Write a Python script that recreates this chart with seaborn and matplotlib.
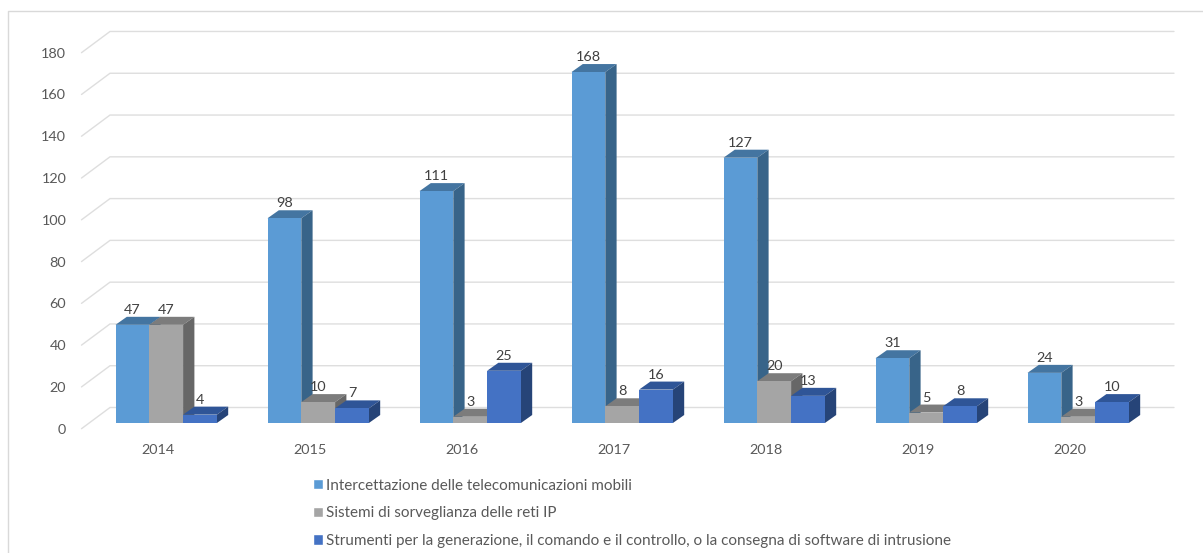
import matplotlib
matplotlib.use("Agg")
import matplotlib.pyplot as plt
from matplotlib.lines import Line2D
from matplotlib.patches import Polygon
from matplotlib.transforms import Affine2D
import pandas as pd
import seaborn as sns

# Chart values
years = ["2014", "2015", "2016", "2017", "2018", "2019", "2020"]
series_names = [
    "Intercettazione delle telecomunicazioni mobili",
    "Sistemi di sorveglianza delle reti IP",
    "Strumenti per la generazione, il comando e il controllo, o la consegna di software di intrusione",
]
intercettazione = [47, 98, 111, 168, 127, 31, 24]
sorveglianza = [47, 10, 3, 8, 20, 5, 3]
strumenti = [4, 7, 25, 16, 13, 8, 10]
y_ticks = list(range(0, 181, 20))

# Face colours: front, top, side
front_colors = ["#5B9BD5", "#A5A5A5", "#4472C4"]
top_colors = ["#4475A1", "#7C7C7C", "#2F5597"]
side_colors = ["#386489", "#676767", "#264478"]

W, H, DPI = 1203, 553, 100
sns.set_style("white")
plt.rcParams["font.family"] = ["Lato", "DejaVu Sans"]
TEXT = "#595959"
LABEL = "#404040"
GRID = "#DEDEDE"

fig = plt.figure(figsize=(W / DPI, H / DPI), dpi=DPI, facecolor="white")

# The axes is the front plane of the 3D box
PX_LEFT, PX_ZERO, PX_WIDTH = 81.5, 428.7, 1064.0
PX_PER_UNIT = 2.089
PX_PER_CAT = PX_WIDTH / len(years)
ax = fig.add_axes([PX_LEFT / W, (H - PX_ZERO) / H, PX_WIDTH / W, 180 * PX_PER_UNIT / H])

df = pd.DataFrame({
    "anno": years * 3,
    "valore": intercettazione + sorveglianza + strumenti,
    "serie": [n for n in series_names for _ in years],
})
sns.barplot(data=df, x="anno", y="valore", hue="serie", hue_order=series_names,
            palette=front_colors, saturation=1, width=0.667, gap=0, dodge=True, ax=ax)
handles, labels = ax.get_legend_handles_labels()
ax.get_legend().remove()

ax.set_xlim(-0.5, len(years) - 0.5)
ax.set_ylim(0, 180)
ax.set_xlabel("")
ax.set_ylabel("")
ax.set_yticks(y_ticks)
ax.tick_params(axis="both", length=0, labelsize=10.4, labelcolor=TEXT)
ax.tick_params(axis="x", pad=11.2)
ax.tick_params(axis="y", pad=11)
sns.despine(ax=ax, left=True, bottom=True)
ax.patch.set_alpha(0)


def depth(px_x, px_y):
    """Convert a pixel offset on screen into data units."""
    return px_x / PX_PER_CAT, px_y / PX_PER_UNIT


# Walls: diagonal on the side wall, horizontal on the back wall
wall_dx, wall_dy = depth(28.5, 21.2)
x0, x1 = ax.get_xlim()
for v in y_ticks:
    ax.plot([x0, x0 + wall_dx, x1 + wall_dx], [v, v + wall_dy, v + wall_dy],
            color=GRID, lw=1.0, clip_on=False, zorder=0.5, solid_joinstyle="miter")

# Bars stand a little behind the front plane
BAR_SHIFT_X, BAR_SHIFT_Y = 8.7, 5.7
shift = Affine2D().translate(BAR_SHIFT_X, BAR_SHIFT_Y)
bar_dx, bar_dy = depth(11.3, 8.0)
for i, bars in enumerate(ax.containers):
    base = 2 + i
    for patch in bars:
        bx, bw, bh = patch.get_x(), patch.get_width(), patch.get_height()
        transform = ax.transData + shift
        patch.set_transform(transform)
        patch.set_zorder(base + 0.2)
        patch.set_clip_on(False)
        patch.set_linewidth(0)
        top = Polygon([(bx, bh), (bx + bw, bh), (bx + bw + bar_dx, bh + bar_dy), (bx + bar_dx, bh + bar_dy)],
                      closed=True, facecolor=top_colors[i], edgecolor="none",
                      transform=transform, clip_on=False, zorder=base)
        side = Polygon([(bx + bw, 0), (bx + bw + bar_dx, bar_dy), (bx + bw + bar_dx, bh + bar_dy), (bx + bw, bh)],
                       closed=True, facecolor=side_colors[i], edgecolor="none",
                       transform=transform, clip_on=False, zorder=base)
        ax.add_patch(top)
        ax.add_patch(side)
        ax.annotate(f"{bh:.0f}", (bx + bw / 2, bh), xytext=(BAR_SHIFT_X, 20.6), textcoords="offset pixels",
                    ha="center", va="center", fontsize=10.4, color=LABEL, zorder=10,
                    annotation_clip=False)

# Legend stacked under the plot
fig.legend(handles, labels, loc="upper left", bbox_to_anchor=(308.5 / W, 1 - 474 / H),
           bbox_transform=fig.transFigure, ncol=1, frameon=False, fontsize=11,
           labelcolor=TEXT, handlelength=0.65, handleheight=0.65, handletextpad=0.2,
           labelspacing=0.89, borderpad=0.3, borderaxespad=0)

# Outer chart frame: only the top and left edges fall inside the image
fx, fy = 7.5 / W, 1 - 10.5 / H
fig.add_artist(Line2D([fx, fx, 1], [0, fy, fy], transform=fig.transFigure, color="#D9D9D9", lw=1.0))

fig.savefig("out.png", dpi=DPI, facecolor="white")
